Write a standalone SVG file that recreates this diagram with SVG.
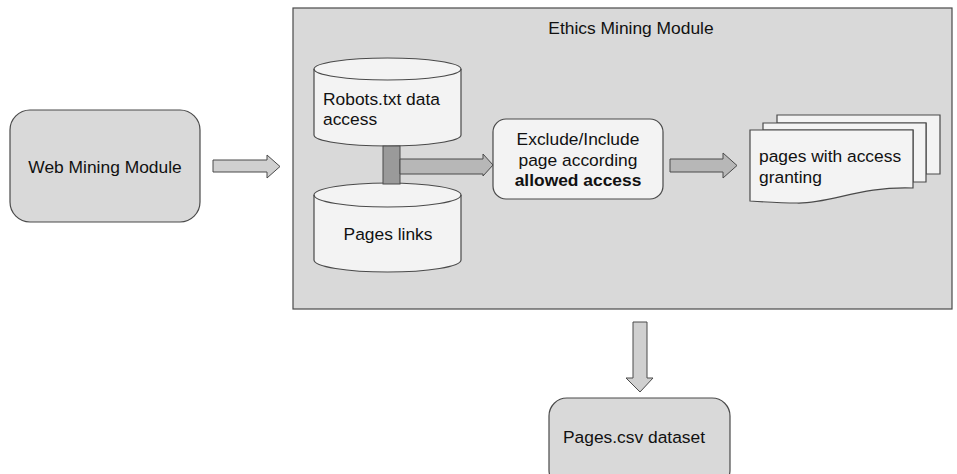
<svg xmlns="http://www.w3.org/2000/svg" width="957" height="474" viewBox="0 0 957 474">
  <style>
    text { font-family: "Liberation Sans", Arial, sans-serif; font-size: 17.4px; fill: #111; }
    .bold { font-weight: bold; }
    .box { fill: #d9d9d9; stroke: #4a4a4a; stroke-width: 1.2; }
    .light { fill: #f3f3f3; stroke: #4a4a4a; stroke-width: 1.2; }
    .arrow { fill: #d0d0d0; stroke: #4a4a4a; stroke-width: 1; }
    .arrow-in { fill: #b7b7b7; stroke: #4a4a4a; stroke-width: 1; }
    .bar { fill: #9a9a9a; stroke: #4a4a4a; stroke-width: 1; }
  </style>
  <rect width="957" height="474" fill="#ffffff"/>

  <g id="ethics-module">
    <rect class="box" x="293" y="8" width="659" height="301"/>
    <text x="631" y="34" text-anchor="middle">Ethics Mining Module</text>
  </g>

  <g id="web-mining">
    <rect class="box" x="10" y="110" width="190" height="112" rx="20" ry="20"/>
    <text x="105" y="173" text-anchor="middle">Web Mining Module</text>
  </g>

  <g id="robots-db">
    <path class="light" d="M314,69 A73.5,11 0 0 1 461,69 L461,135 A73.5,11 0 0 1 314,135 Z"/>
    <path d="M314,69 A73.5,11 0 0 0 461,69" fill="none" stroke="#4a4a4a" stroke-width="1.2"/>
    <text x="323" y="105">Robots.txt data</text>
    <text x="323" y="125">access</text>
  </g>

  <g id="pages-links-db">
    <path class="light" d="M314,195 A73.5,12 0 0 1 461,195 L461,260 A73.5,12 0 0 1 314,260 Z"/>
    <path d="M314,195 A73.5,12 0 0 0 461,195" fill="none" stroke="#4a4a4a" stroke-width="1.2"/>
    <text x="388" y="240" text-anchor="middle">Pages links</text>
  </g>

  <g id="filter">
    <rect class="light" x="493" y="119" width="170" height="80" rx="13" ry="13"/>
    <text x="578" y="145" text-anchor="middle">Exclude/Include</text>
    <text x="578" y="166" text-anchor="middle">page according</text>
    <text class="bold" x="578" y="186" text-anchor="middle">allowed access</text>
  </g>

  <g id="granted-pages">
    <path class="light" d="M777,115 H940 V174 H926 V123 H777 Z"/>
    <path class="light" d="M763,123 H926 V182 H913 V130 H763 Z"/>
    <path class="light" d="M750,130 H913 V188 C860,186 830,204 797,203 C780,203 765,202 750,201 Z"/>
    <text x="759" y="162">pages with access</text>
    <text x="759" y="183">granting</text>
  </g>

  <g id="pages-csv">
    <rect class="box" x="549" y="398" width="181" height="90" rx="18" ry="18"/>
    <text x="634" y="443" text-anchor="middle">Pages.csv dataset</text>
  </g>

  <g id="connectors">
    <path class="arrow" d="M213,160 H267 V155 L280,166.5 L267,178 V172 H213 Z"/>
    <rect class="bar" x="383" y="146" width="17" height="38"/>
    <path class="arrow-in" d="M400,159 H483 V154 L493,165 L483,176 V174 H400 Z"/>
    <path class="arrow-in" d="M670,159 H723 V153 L737,165.5 L723,178 V172 H670 Z"/>
    <path class="arrow" d="M633,322 H647 V378 H653 L640,392 L626,378 H633 Z"/>
  </g>
</svg>
